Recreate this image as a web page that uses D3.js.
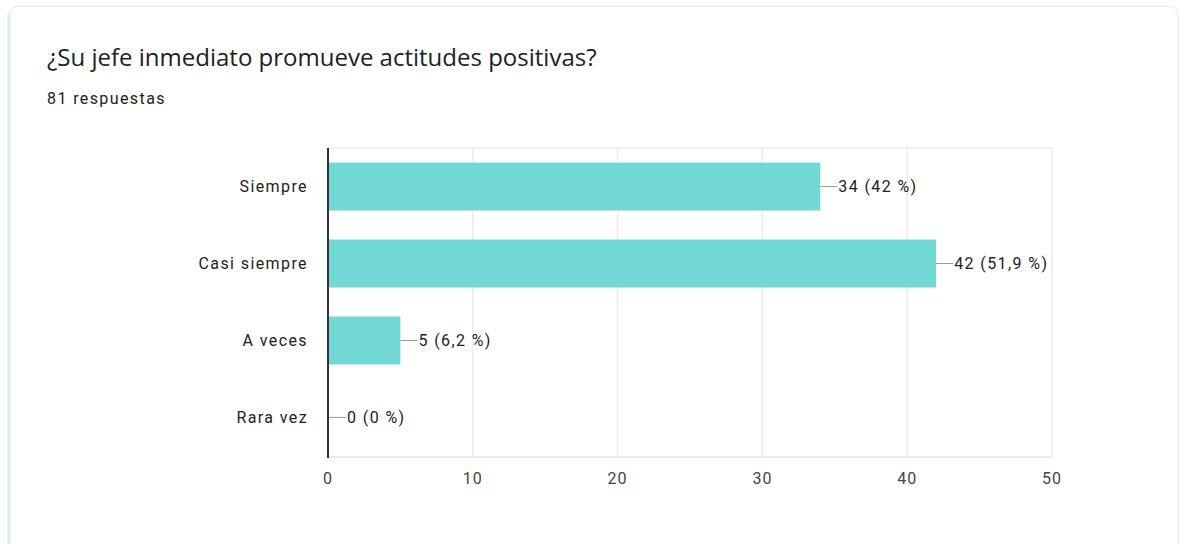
<!DOCTYPE html>
<html>
<head>
<meta charset="utf-8">
<script src="https://cdn.jsdelivr.net/npm/d3@7"></script>
<style>
  body { margin: 0; background: #fff; }
  text { font-family: Roboto, Arial, sans-serif; }
</style>
</head>
<body>
<div id="graph"></div>
<script>
var width = 1184, height = 544

var categories = ['Siempre', 'Casi siempre', 'A veces', 'Rara vez']
var counts = [34, 42, 5, 0]
var percents = ['42 %', '51,9 %', '6,2 %', '0 %']
var ticks = [0, 10, 20, 30, 40, 50]
var total = 81

var svg = d3.select('#graph').append('svg')
    .attr('width', width).attr('height', height)

// card
svg.append('rect')
    .attr('x', 9.5).attr('y', 6.5).attr('width', 1169).attr('height', 600)
    .attr('rx', 8).attr('fill', '#fff').attr('stroke', '#e3e6e8')
svg.append('line')
    .attr('x1', 9).attr('x2', 9).attr('y1', 14).attr('y2', height)
    .attr('stroke', '#d6f0ef').attr('stroke-width', 3)

svg.append('text')
    .attr('x', 47).attr('y', 66)
    .attr('font-size', 24).attr('fill', '#202124')
    .style('font-family', '"Open Sans", Roboto, sans-serif')
    .text('¿Su jefe inmediato promueve actitudes positivas?')

svg.append('text')
    .attr('x', 47).attr('y', 104)
    .attr('font-size', 16).attr('fill', '#202124')
    .attr('letter-spacing', 1.4)
    .text(total + ' respuestas')

var x = d3.scaleLinear().domain([0, 50]).range([328, 1052])
var y = d3.scaleBand().domain(categories).range([148, 456])
    .paddingInner(0.377).paddingOuter(0.19)

var g = svg.append('g')

// grid
g.selectAll('line.grid').data(ticks.slice(1)).enter().append('line')
    .attr('x1', d => x(d)).attr('x2', d => x(d))
    .attr('y1', 148).attr('y2', 457)
    .attr('stroke', '#ebebeb').attr('stroke-width', 1.5)
g.append('line')
    .attr('x1', x(0)).attr('x2', x(50)).attr('y1', 148).attr('y2', 148)
    .attr('stroke', '#ebebeb').attr('stroke-width', 1.5)
g.append('line')
    .attr('x1', x(0)).attr('x2', x(50)).attr('y1', 457).attr('y2', 457)
    .attr('stroke', '#ebebeb').attr('stroke-width', 2)

// bars
g.selectAll('rect.bar').data(categories).enter().append('rect')
    .attr('x', x(0)).attr('y', d => y(d))
    .attr('width', (d, i) => x(counts[i]) - x(0))
    .attr('height', y.bandwidth())
    .attr('fill', '#71d8d3')

// axis line
g.append('line')
    .attr('x1', x(0)).attr('x2', x(0)).attr('y1', 148).attr('y2', 458)
    .attr('stroke', '#333').attr('stroke-width', 2)

// category labels
g.selectAll('text.cat').data(categories).enter().append('text')
    .attr('x', 308).attr('y', d => y(d) + y.bandwidth() / 2)
    .attr('dy', '0.35em').attr('text-anchor', 'end')
    .attr('font-size', 16).attr('letter-spacing', 1.4).attr('fill', '#222')
    .text(d => d)

// value labels
categories.forEach(function(c, i){
  var x0 = x(counts[i]) + (counts[i] ? 0 : 1), cy = y(c) + y.bandwidth() / 2
  g.append('line')
      .attr('x1', x0).attr('x2', x0 + 17).attr('y1', cy).attr('y2', cy)
      .attr('stroke', '#999').attr('stroke-width', 1)
  g.append('text')
      .attr('x', x0 + 18).attr('y', cy).attr('dy', '0.35em')
      .attr('font-size', 16).attr('letter-spacing', 1.4).attr('fill', '#222')
      .text(counts[i] + ' (' + percents[i] + ')')
})

// ticks
g.selectAll('text.tick').data(ticks).enter().append('text')
    .attr('x', d => x(d)).attr('y', 484)
    .attr('text-anchor', 'middle')
    .attr('font-size', 16).attr('letter-spacing', 1).attr('fill', '#444')
    .text(d => d)
</script>
</body>
</html>
